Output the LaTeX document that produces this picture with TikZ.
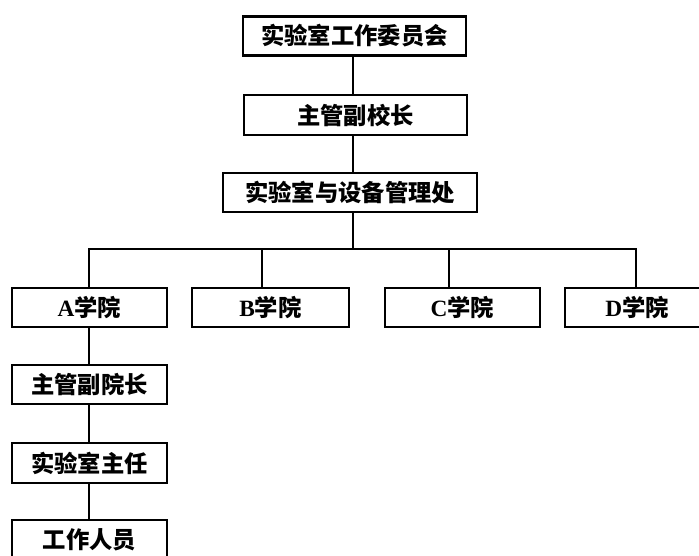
\documentclass[tikz,border=0pt]{standalone}
\usepackage{fontspec}
\setmainfont{Liberation Serif}
\newfontfamily\cjk{Noto Sans CJK SC}
\tikzset{every picture/.style={line width=0.75pt}}
\tikzset{
  orgbox/.style={draw, line width=1.6pt, minimum height=29.25pt, inner sep=0pt,
    font=\fontsize{17.5}{20}\selectfont\bfseries},
  link/.style={line width=1.5pt}
}
\newcommand{\zh}[1]{{\cjk\bfseries #1}}

\begin{document}
\begin{tikzpicture}[x=0.75pt,y=0.75pt,yscale=-1,xscale=1]
\useasboundingbox (0,0) rectangle (699,556);

%Shape: Rectangle (top level)
\node[orgbox, minimum width=167.25pt] (committee) at (354.5,36) {\zh{实验室工作委员会}};
\node[orgbox, minimum width=167.25pt, minimum height=30pt] (vicepres) at (355.5,115) {\zh{主管副校长}};
\node[orgbox, minimum width=190.5pt] (office) at (350,192.5) {\zh{实验室与设备管理处}};

%Shape: Rectangle (colleges)
\node[orgbox, minimum width=116.25pt] (collA) at (89.5,307.5) {A\zh{学院}};
\node[orgbox, minimum width=117.75pt] (collB) at (270.5,307.5) {B\zh{学院}};
\node[orgbox, minimum width=116.25pt] (collC) at (462.5,307.5) {C\zh{学院}};
\node[orgbox, minimum width=108pt] (collD) at (637,307.5) {D\zh{学院}};

%Shape: Rectangle (college A chain)
\node[orgbox, minimum width=116.25pt] (vicedean) at (89.5,384.5) {\zh{主管副院长}};
\node[orgbox, minimum width=116.25pt, minimum height=30pt] (labhead) at (89.5,463) {\zh{实验室主任}};
\node[orgbox, minimum width=116.25pt] (staff) at (89.5,539.5) {\zh{工作人员}};

%Straight Lines
\coordinate (spine) at (353,249);
\draw[link] (committee.south -| spine) -- (vicepres.north -| spine);
\draw[link] (vicepres.south -| spine) -- (office.north -| spine);

\coordinate (busA) at (89,249);
\coordinate (busB) at (262,249);
\coordinate (busC) at (449,249);
\coordinate (busD) at (636,249);
\draw[link] (office.south -| spine) -- (spine);
\draw[link] (busA |- collA.north) -- (busA) -- (busD) -- (busD |- collD.north);
\draw[link] (busB) -- (busB |- collB.north);
\draw[link] (busC) -- (busC |- collC.north);

\draw[link] (collA.south -| busA) -- (vicedean.north -| busA);
\draw[link] (vicedean.south -| busA) -- (labhead.north -| busA);
\draw[link] (labhead.south -| busA) -- (staff.north -| busA);

\end{tikzpicture}
\end{document}
